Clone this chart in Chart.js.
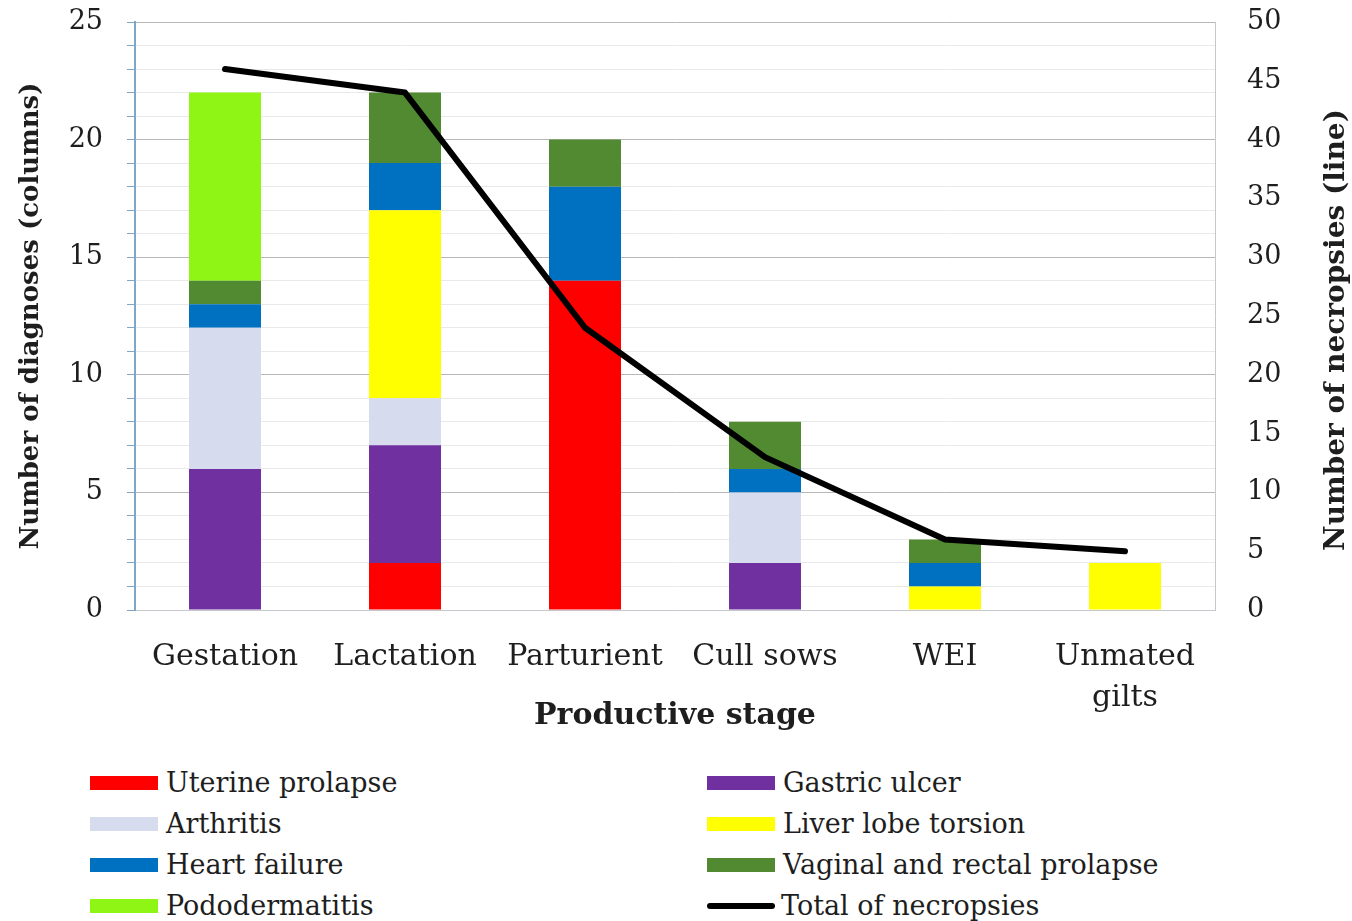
<!DOCTYPE html>
<html>
<head>
<meta charset="utf-8">
<script src="https://cdn.jsdelivr.net/npm/chart.js@4"></script>
<style>
  body { margin: 0; background: #fff; }
  #wrap { position: relative; width: 1352px; height: 921px; overflow: hidden; }
  #chart-box { position: absolute; left: 0; top: 0; width: 1352px; height: 745px; }
  #legend {
    position: absolute; left: 90px; top: 762px;
    display: grid; grid-template-columns: 617px 600px; grid-auto-rows: 41px;
    font-family: "DejaVu Serif", serif; font-size: 27px; color: #1e1e1e;
  }
  .item { display: flex; align-items: center; white-space: nowrap; }
  .swatch { width: 68px; height: 14px; margin-right: 8px; flex: none; }
  .swatch.line { height: 6px; border-radius: 3px; margin-right: 6px; }
</style>
</head>
<body>
<div id="wrap">
  <div id="chart-box"><canvas id="chart"></canvas></div>
  <div id="legend"></div>
</div>
<script>
// Productive stage categories
const stages = ['Gestation', 'Lactation', 'Parturient', 'Cull sows', 'WEI', ['Unmated', 'gilts']];

// diagnoses per stage (stacked columns, left axis)
const uterineProlapse = [0, 2, 14, 0, 0, 0];
const gastricUlcer = [6, 5, 0, 2, 0, 0];
const arthritis = [6, 2, 0, 3, 0, 0];
const liverLobeTorsion = [0, 8, 0, 0, 1, 2];
const heartFailure = [1, 2, 4, 1, 1, 0];
const vaginalRectalProlapse = [1, 3, 2, 2, 1, 0];
const pododermatitis = [8, 0, 0, 0, 0, 0];

// total necropsies (line, right axis)
const totalNecropsies = [46, 44, 24, 13, 6, 5];

const FONT = '"DejaVu Serif", serif';
const TEXT = '#1e1e1e';
const RIGHT_TITLE = 'Number of necropsies (line)';

function bar(label, data, color) {
  return {
    type: 'bar', label, data, backgroundColor: color, yAxisID: 'y',
    stack: 'dx', barPercentage: 0.4, categoryPercentage: 1, order: 1,
  };
}

const datasets = [
  bar('Uterine prolapse', uterineProlapse, '#ff0000'),
  bar('Gastric ulcer', gastricUlcer, '#7030a0'),
  bar('Arthritis', arthritis, '#d6dcee'),
  bar('Liver lobe torsion', liverLobeTorsion, '#ffff00'),
  bar('Heart failure', heartFailure, '#0070c0'),
  bar('Vaginal and rectal prolapse', vaginalRectalProlapse, '#528a32'),
  bar('Pododermatitis', pododermatitis, '#8ef514'),
  {
    type: 'line', label: 'Total of necropsies', data: totalNecropsies, yAxisID: 'y2',
    borderColor: '#000', borderWidth: 6, pointRadius: 0, tension: 0,
    borderCapStyle: 'round', borderJoinStyle: 'round', fill: false, order: 0,
  },
];

// right axis title reads bottom-to-top, which Chart.js does not do for right titles
const rightTitle = {
  id: 'rightTitle',
  afterDraw(chart) {
    const s = chart.scales.y2;
    const ctx = chart.ctx;
    ctx.save();
    ctx.translate(s.right - 15, (chart.chartArea.top + chart.chartArea.bottom) / 2 + 14);
    ctx.rotate(-Math.PI / 2);
    ctx.font = 'bold 28px ' + FONT;
    ctx.fillStyle = TEXT;
    ctx.textAlign = 'center';
    ctx.textBaseline = 'middle';
    ctx.fillText(RIGHT_TITLE, 0, 0);
    ctx.restore();
  },
};

const chart = new Chart(document.getElementById('chart'), {
  data: { labels: stages, datasets },
  plugins: [rightTitle],
  options: {
    responsive: true,
    maintainAspectRatio: false,
    animation: false,
    layout: { padding: { top: 22, left: 0, right: 0, bottom: 0 } },
    plugins: { legend: { display: false }, tooltip: { enabled: false } },
    scales: {
      x: {
        stacked: true,
        grid: { color: 'transparent', drawTicks: false },
        border: { color: '#c4c8cc', width: 1 },
        ticks: {
          color: TEXT, font: { family: FONT, size: 30, lineHeight: 1.35 },
          padding: 27, maxRotation: 0, autoSkip: false,
        },
        title: {
          display: true, text: 'Productive stage', color: TEXT,
          font: { family: FONT, size: 30, weight: 'bold' }, padding: { top: 0, bottom: 11 },
        },
        afterFit: s => { s.height = 135; },
      },
      y: {
        stacked: true, position: 'left', min: 0, max: 25,
        grid: {
          color: c => (c.tick && c.tick.value % 5 === 0 ? '#b8b8b8' : '#e9e9e9'),
          tickLength: 8, tickColor: '#7fa6c8',
        },
        border: { color: '#7fa6c8', width: 2 },
        ticks: {
          stepSize: 1, autoSkip: false, padding: 24, color: TEXT,
          font: { family: FONT, size: 27 },
          callback: v => (v % 5 === 0 ? v : ''),
        },
        title: {
          display: true, text: 'Number of diagnoses (columns)', color: TEXT,
          font: { family: FONT, size: 26, weight: 'bold' }, padding: { top: 16, bottom: 0 },
        },
        afterFit: s => { s.width = 135; s.paddingTop = 14; s.paddingBottom = 14; },
      },
      y2: {
        position: 'right', min: 0, max: 50,
        grid: { drawOnChartArea: false, drawTicks: false },
        border: { color: '#c4c8cc', width: 1 },
        ticks: { stepSize: 5, padding: 32, color: TEXT, font: { family: FONT, size: 27 } },
        afterFit: s => { s.width = 137; s.paddingTop = 14; s.paddingBottom = 14; },
      },
    },
  },
});

// two-column legend built from the chart's datasets
const legend = document.getElementById('legend');
chart.data.datasets.forEach(ds => {
  const item = document.createElement('div');
  item.className = 'item';
  const sw = document.createElement('span');
  const isLine = ds.type === 'line';
  sw.className = 'swatch' + (isLine ? ' line' : '');
  sw.style.background = isLine ? ds.borderColor : ds.backgroundColor;
  const txt = document.createElement('span');
  txt.textContent = ds.label;
  item.appendChild(sw);
  item.appendChild(txt);
  legend.appendChild(item);
});
</script>
</body>
</html>
